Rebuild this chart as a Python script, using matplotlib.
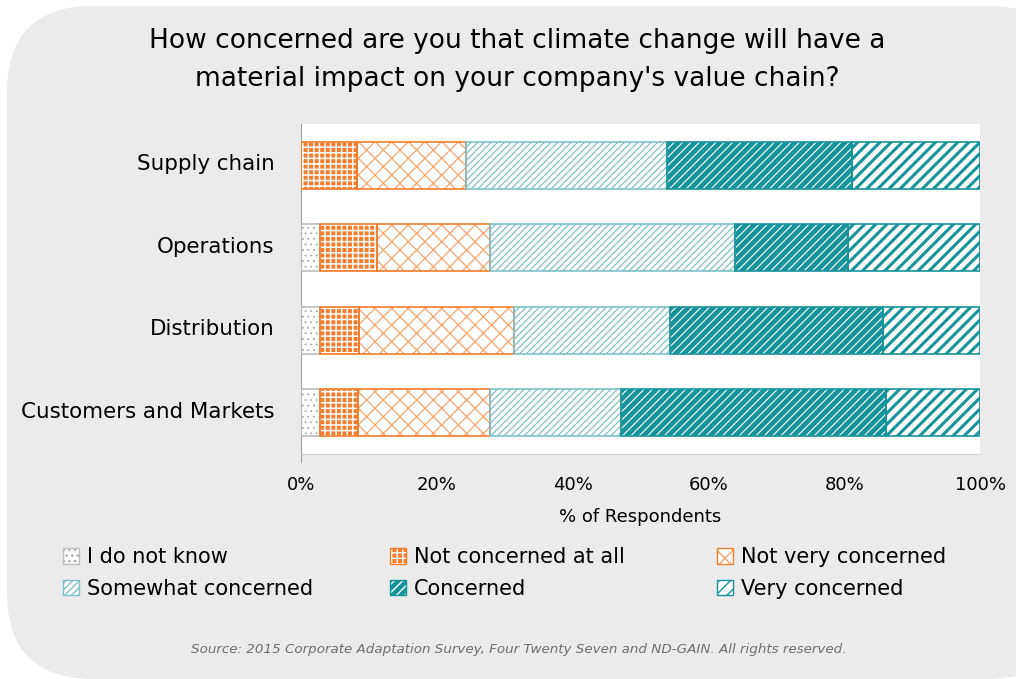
import matplotlib
matplotlib.use("Agg")
import matplotlib.pyplot as plt
import matplotlib.transforms as mtransforms
from matplotlib.patches import FancyBboxPatch, Patch
from matplotlib.legend_handler import HandlerTuple
import numpy as np

categories = ["Supply chain", "Operations", "Distribution", "Customers and Markets"]
series_names = ["I do not know", "Not concerned at all", "Not very concerned",
                "Somewhat concerned", "Concerned", "Very concerned"]
i_do_not_know = [0.0, 2.8, 2.8, 2.8]
not_concerned_at_all = [8.2, 8.4, 5.7, 5.6]
not_very_concerned = [16.1, 16.6, 22.9, 19.4]
somewhat_concerned = [29.6, 36.1, 22.9, 19.3]
concerned = [27.3, 16.7, 31.4, 39.1]
very_concerned = [18.8, 19.4, 14.3, 13.8]
x_ticks = [0, 20, 40, 60, 80, 100]
x_tick_labels = ["0%", "20%", "40%", "60%", "80%", "100%"]

series = [i_do_not_know, not_concerned_at_all, not_very_concerned,
          somewhat_concerned, concerned, very_concerned]

ORANGE = "#F37D2A"
LORANGE = "#F7A56C"
TEAL = "#17939B"
LTEAL = "#7DC2C8"
GREY = "#BEBEBE"

# (facecolor, hatch, hatch color, hatch linewidth, edge color)
styles = [
    ("white", "...", "#A8A8A8", 0.6, GREY),
    (ORANGE, "+++", "white", 1.1, ORANGE),
    ("white", "xx", LORANGE, 0.9, ORANGE),
    ("white", "/////", LTEAL, 0.9, LTEAL),
    (TEAL, "////", "white", 0.8, TEAL),
    ("white", "///", TEAL, 2.2, TEAL),
]

plt.rcParams['font.family'] = ['DejaVu Sans']

fig = plt.figure(figsize=(10.16, 6.79), dpi=100)
fig.patch.set_facecolor("white")
bg = FancyBboxPatch((7 / 1016, 0.0), 1.05, 1 - 6 / 679,
                    boxstyle="round,pad=0,rounding_size=0.085",
                    transform=fig.transFigure, facecolor="#EBEBEB",
                    edgecolor="none", zorder=-10, mutation_aspect=1016 / 679)
fig.patches.append(bg)

ax = fig.add_axes([301 / 1016, 1 - 454 / 679, 679 / 1016, 330 / 679])
ax.set_facecolor("white")

y = np.arange(len(categories))
left = np.zeros(len(categories))
bar_h = 0.57
for vals, (fc, hatch, hc, hlw, ec) in zip(series, styles):
    vals = np.array(vals)
    with plt.rc_context({"hatch.linewidth": hlw, "hatch.color": hc}):
        ax.barh(y, vals, left=left, height=bar_h, color=fc, hatch=hatch,
                edgecolor=hc, linewidth=0, zorder=2)
    ax.barh(y, vals, left=left, height=bar_h, fill=False,
            edgecolor=ec, linewidth=1.2, zorder=3)
    left += vals

ax.set_xlim(0, 100)
ax.set_ylim(len(categories) - 0.5, -0.5)
ax.set_yticks(y)
ax.set_yticklabels(categories, fontsize=15.4)
ax.tick_params(axis="y", length=0, pad=19)
shift = mtransforms.ScaledTranslation(0, 3 / 100, fig.dpi_scale_trans)
for tick in ax.yaxis.get_major_ticks():
    tick.label1.set_transform(tick.label1.get_transform() + shift)
ax.set_xticks(x_ticks)
ax.set_xticklabels(x_tick_labels, fontsize=13)
ax.tick_params(axis="x", length=0, pad=16)
for s in ["top", "right"]:
    ax.spines[s].set_visible(False)
ax.spines["left"].set_color("#A0A0A0")
ax.spines["left"].set_bounds(-0.5, 3.6)
ax.spines["bottom"].set_color("#D0D0D0")
ax.set_xlabel("% of Respondents", fontsize=13, labelpad=10)

fig.text(517 / 1016, 1 - 60 / 679,
         "How concerned are you that climate change will have a\nmaterial impact on your company's value chain?",
         ha="center", va="center", fontsize=19, linespacing=1.6)

handles = []
for (fc, hatch, hc, hlw, ec) in styles:
    with plt.rc_context({"hatch.linewidth": hlw, "hatch.color": hc}):
        hp = Patch(facecolor=fc, hatch=hatch, edgecolor=hc, linewidth=0)
    op = Patch(fill=False, edgecolor=ec, linewidth=1.0)
    handles.append((hp, op))

columns = [[0, 3], [1, 4], [2, 5]]
col_x = [55, 382, 709]
for cx, idxs in zip(col_x, columns):
    lg = fig.legend([handles[i] for i in idxs], [series_names[i] for i in idxs],
                    ncol=1, loc="upper left", bbox_to_anchor=(cx / 1016, 1 - 539 / 679),
                    frameon=False, fontsize=15, handlelength=0.75, handleheight=0.75,
                    handletextpad=0.4, labelspacing=0.55, borderaxespad=0,
                    handler_map={tuple: HandlerTuple(ndivide=1, pad=0)})

fig.text(519 / 1016, 1 - 649 / 679,
         "Source: 2015 Corporate Adaptation Survey, Four Twenty Seven and ND-GAIN. All rights reserved.",
         ha="center", va="center", fontsize=9.7, style="italic", color="#6E6E6E")

fig.savefig("out.png", dpi=100, facecolor=fig.get_facecolor())
